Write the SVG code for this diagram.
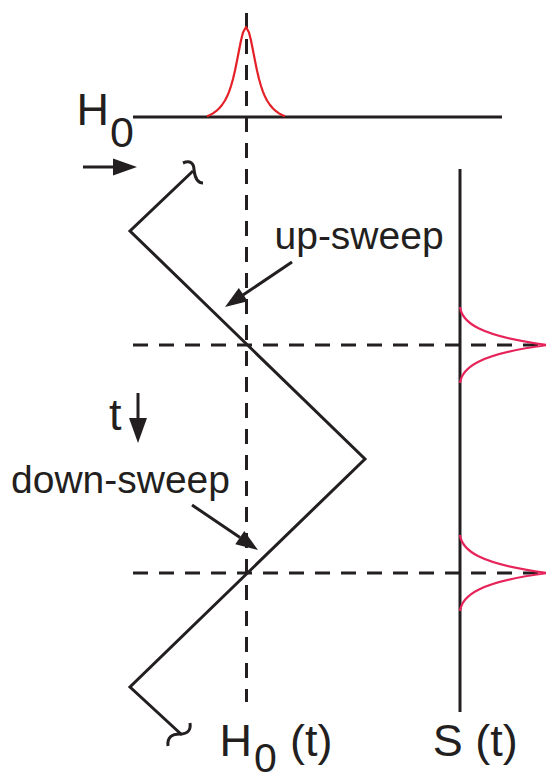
<svg xmlns="http://www.w3.org/2000/svg" width="546" height="781" viewBox="0 0 546 781">
  <style>
    .ink { stroke: #231f20; stroke-width: 3; fill: none; }
    .dash { stroke: #231f20; stroke-width: 3; fill: none; stroke-dasharray: 15 11; }
    .head { fill: #231f20; stroke: none; }
    .peak { stroke: #e41f26; stroke-width: 2.2; fill: none; stroke-linejoin: round; }
    .signal { stroke: #e6245a; stroke-width: 2.2; fill: none; }
    .lbl { font-family: "Liberation Sans", Arial, sans-serif; fill: #231f20; }
  </style>
  <rect width="546" height="781" fill="#ffffff"/>

  <!-- field axis and the applied-field dashed line -->
  <g id="field-axis">
    <line class="ink" x1="133" y1="117" x2="502" y2="117"/>
    <line class="dash" x1="246.5" y1="13" x2="246.5" y2="702"/>
    <text class="lbl" x="76.5" y="125" font-size="45">H</text>
    <text class="lbl" x="110" y="147" font-size="43">0</text>
  </g>

  <!-- resonance line shape on the field axis -->
  <g id="resonance">
    <path class="peak" d="M207,116.3 L210,115 L213,113.4 L216,111.2 L219,108.5 L222,105 L225,100.5 L227,96.6 L229,91.8 L231,86 L233,79 L235,70.5 L237,60.8 L239,50.5 L241,40.5 L243,32.5 L246,27 L249,32.5 L251,40.5 L253,50.5 L255,60.8 L257,70.5 L259,79 L261,86 L263,91.8 L265,96.6 L267,100.5 L270,105 L273,108.5 L276,111.2 L279,113.4 L282,115 L285,116.3"/>
  </g>

  <!-- triangular field sweep -->
  <g id="sweep">
    <path class="ink" stroke-linejoin="miter" d="M193,171 L130,231 L365,459 L130,687 L182,735"/>
    <path class="ink" d="M183,163 C190,160 194,163 194,170 C195,178 197,183 203,183"/>
    <path class="ink" d="M168,746 C167,737 172,734 180,734 C188,734 191,730 190,723"/>
  </g>

  <!-- resonance crossing times -->
  <g id="crossings">
    <line class="dash" x1="133" y1="345" x2="546" y2="345"/>
    <line class="dash" x1="133" y1="573" x2="546" y2="573"/>
  </g>

  <!-- signal trace -->
  <g id="signal">
    <line class="ink" x1="460" y1="169" x2="460" y2="712"/>
    <path class="signal" d="M460,307 C462,322 478,336 548,345 C478,354 462,368 460,383"/>
    <path class="signal" d="M460,535 C462,550 478,564 548,573 C478,582 462,596 460,611"/>
    <text class="lbl" x="432.7" y="755.5" font-size="45">S (t)</text>
  </g>

  <g id="field-time-label">
    <text class="lbl" x="219.5" y="755.5" font-size="45">H</text>
    <text class="lbl" x="254" y="772" font-size="41">0</text>
    <text class="lbl" x="290" y="755.5" font-size="45">(t)</text>
  </g>

  <g id="time-label">
    <text class="lbl" x="109" y="430" font-size="45">t</text>
  </g>

  <g id="up-sweep-label">
    <text class="lbl" x="274.5" y="249" font-size="39">up-sweep</text>
  </g>

  <g id="down-sweep-label">
    <text class="lbl" x="11" y="493" font-size="39">down-sweep</text>
  </g>

  <!-- arrows -->
  <g id="connectors">
    <line class="ink" x1="83" y1="167" x2="118" y2="167"/>
    <polygon class="head" points="113,158.5 113,175.5 137,167"/>
    <line class="ink" x1="138" y1="393" x2="138" y2="422"/>
    <polygon class="head" points="129,418 147,418 138,443"/>
    <line class="ink" x1="292" y1="262" x2="243" y2="295"/>
    <polygon class="head" points="247.8,301.3 238.8,288.1 225,307"/>
    <line class="ink" x1="192" y1="505" x2="240" y2="537.6"/>
    <polygon class="head" points="235.3,544.2 244.3,531 258,550"/>
  </g>
</svg>
